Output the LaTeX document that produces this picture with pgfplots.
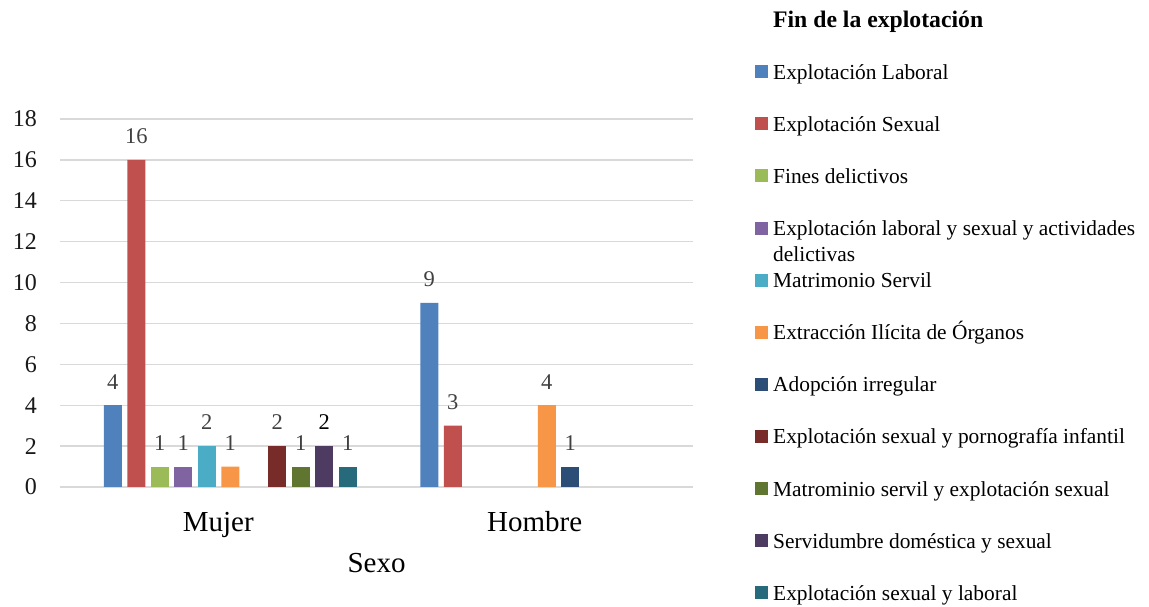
\documentclass[border=0pt]{standalone}
\usepackage{pgfplots}
\pgfplotsset{compat=1.18}
\usepackage{fontspec}
\setmainfont{Liberation Serif}
\definecolor{c1}{HTML}{4F81BD}
\definecolor{c2}{HTML}{C0504D}
\definecolor{c3}{HTML}{9BBB59}
\definecolor{c4}{HTML}{8064A2}
\definecolor{c5}{HTML}{4BACC6}
\definecolor{c6}{HTML}{F79646}
\definecolor{c7}{HTML}{2C4D75}
\definecolor{c8}{HTML}{772C2A}
\definecolor{c9}{HTML}{5F7530}
\definecolor{c10}{HTML}{4D3B62}
\definecolor{c11}{HTML}{276A7C}
\definecolor{gridc}{HTML}{D9D9D9}
\definecolor{lblc}{HTML}{404040}
\pgfplotsset{sq/.style 2 args={ybar, bar width=18pt, draw=none, fill=#1, bar shift=#2,
  every node near coord/.append style={xshift=#2},
  legend image code/.code={\fill[#1] (0pt,-6pt) rectangle (13pt,7pt);}}}
\begin{document}
\begin{tikzpicture}
\path[use as bounding box] (0,0) rectangle (1149pt,607pt);
\begin{axis}[
  at={(60pt,120pt)}, anchor=south west,
  scale only axis, width=633pt, height=368pt,
  xmin=-0.5, xmax=1.5, ymin=0, ymax=18,
  xtick={0,1}, xticklabels={Mujer,Hombre},
  ytick={0,2,...,18},
  axis line style={draw=none},
  major tick length=0pt,
  ymajorgrids, grid style={color=gridc, line width=1.3pt},
  /pgf/number format/assume math mode=true,
  yticklabel style={anchor=east, inner sep=0pt, xshift=-23pt, font=\fontsize{24}{28}\selectfont, text=black!90},
  xticklabel style={anchor=base, inner sep=0pt, yshift=-45pt, font=\fontsize{29}{34}\selectfont, text=black},
  xlabel={Sexo},
  x label style={at={(axis description cs:0.5,0)}, anchor=base, inner sep=0pt, yshift=-86pt, font=\fontsize{29}{34}\selectfont},
  nodes near coords,
  every node near coord/.append style={anchor=south, inner sep=0pt, yshift=16pt, font=\fontsize{22.5}{26}\selectfont, text=lblc},
  clip=false,
  legend cell align=left,
  legend style={at={(axis description cs:1.0979,1.2962)}, anchor=north west, draw=none, fill=none, inner sep=0pt,
    row sep=32.1pt, column sep=5pt, nodes={inner sep=0pt, text height=17pt, text depth=3pt},
    font=\fontsize{21.4}{25.7}\selectfont},
]
\addlegendimage{empty legend}
\addlegendentry{\fontsize{23.7}{28}\selectfont\bfseries Fin de la explotación}
\addplot[sq={c1}{-105.5pt}] coordinates {(0,4) (1,9)};
\addlegendentry{Explotación Laboral}
\addplot[sq={c2}{-82pt}] coordinates {(0,16) (1,3)};
\addlegendentry{Explotación Sexual}
\addplot[sq={c3}{-58.5pt}] coordinates {(0,1)};
\addlegendentry{Fines delictivos}
\addplot[sq={c4}{-35pt}] coordinates {(0,1)};
\addlegendentry{\begin{tabular}[t]{@{}l@{}}Explotación laboral y sexual y actividades\\delictivas\end{tabular}}
\addplot[sq={c5}{-11.5pt}] coordinates {(0,2)};
\addlegendentry{Matrimonio Servil}
\addplot[sq={c6}{12pt}] coordinates {(0,1) (1,4)};
\addlegendentry{Extracción Ilícita de Órganos}
\addplot[sq={c7}{35.5pt}] coordinates {(1,1)};
\addlegendentry{Adopción irregular}
\addplot[sq={c8}{59pt}] coordinates {(0,2)};
\addlegendentry{Explotación sexual y pornografía infantil}
\addplot[sq={c9}{82.5pt}] coordinates {(0,1)};
\addlegendentry{Matrominio servil y explotación sexual}
\addplot[sq={c10}{106pt}, every node near coord/.append style={text=black}] coordinates {(0,2)};
\addlegendentry{Servidumbre doméstica y sexual}
\addplot[sq={c11}{129.5pt}] coordinates {(0,1)};
\addlegendentry{Explotación sexual y laboral}
\end{axis}
\end{tikzpicture}
\end{document}
